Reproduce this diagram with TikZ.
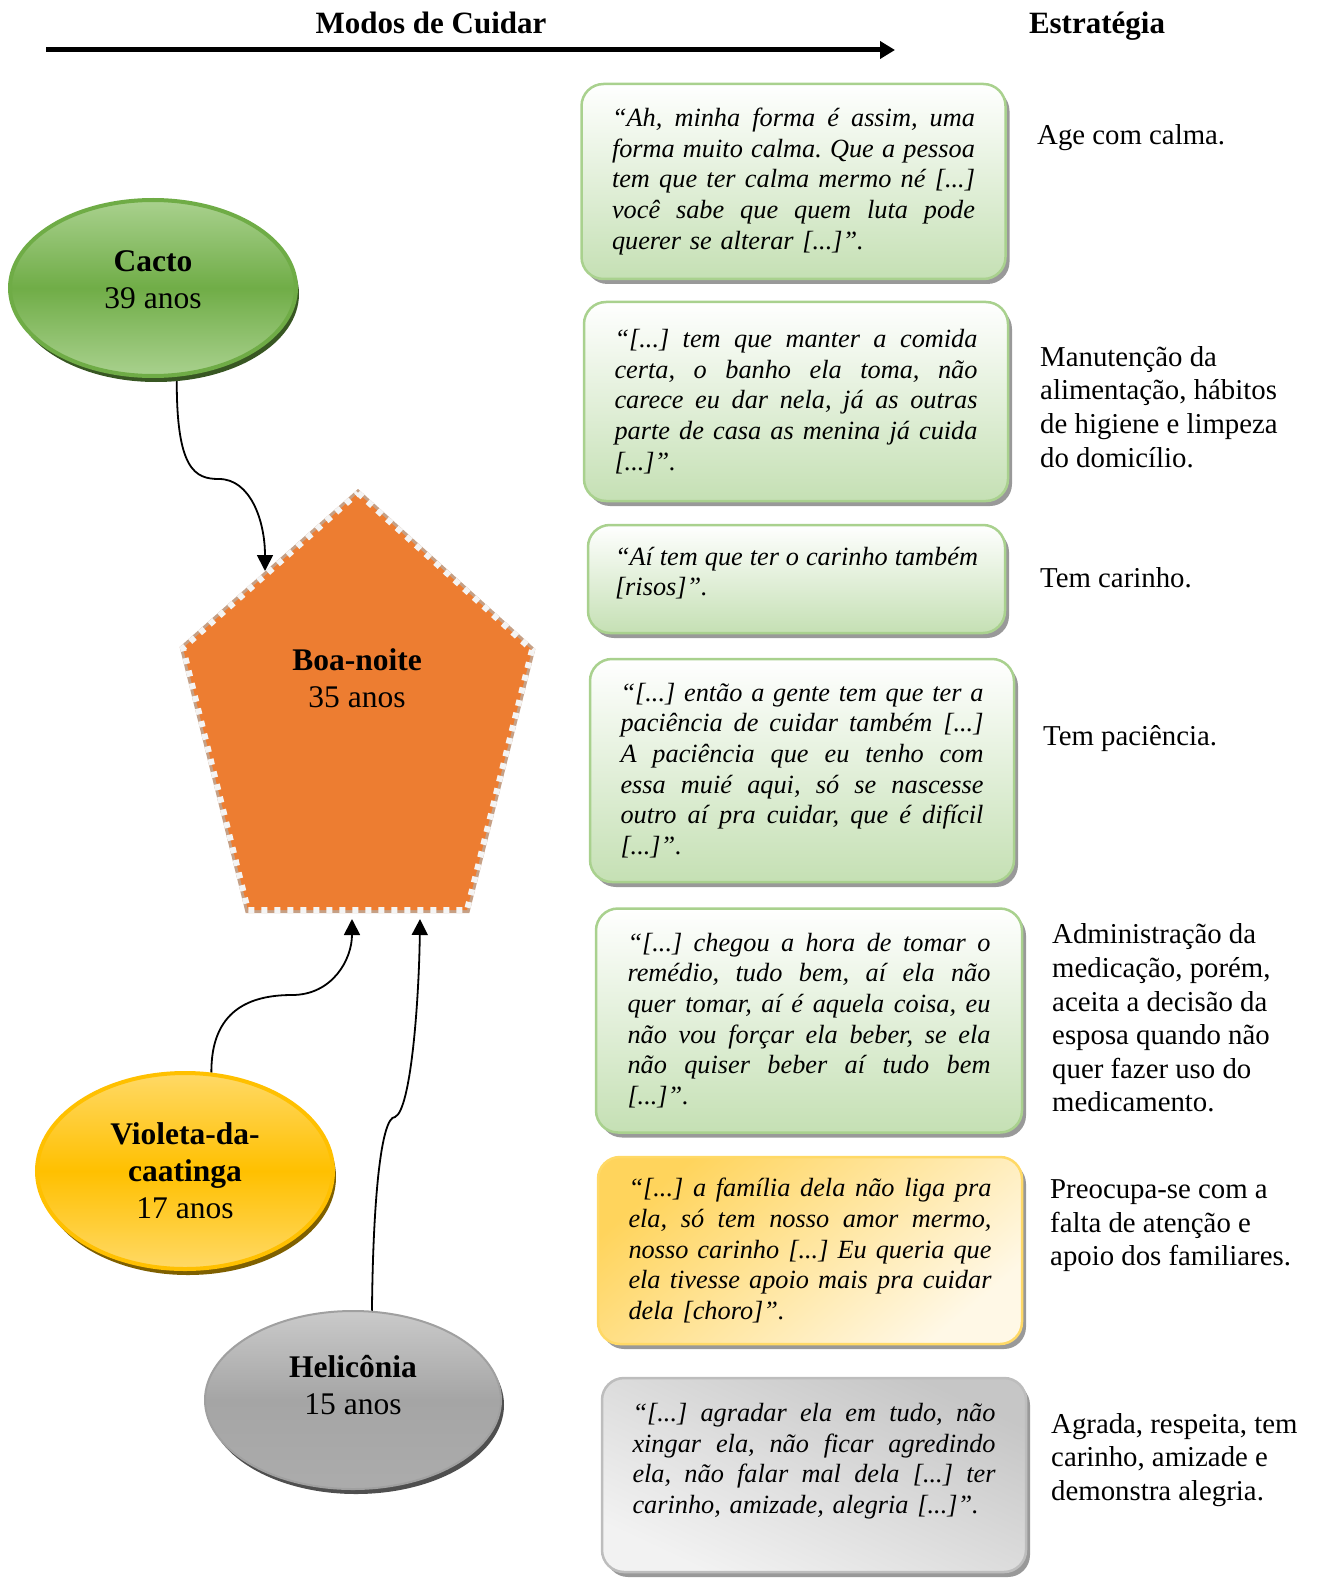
\documentclass[tikz,border=0pt]{standalone}
\usepackage{fontspec}
\setmainfont{Liberation Serif}
\usetikzlibrary{shapes.geometric,shadows,arrows.meta}
\pgfdeclarelayer{background}
\pgfsetlayers{background,main}
\frenchspacing

% palette
\definecolor{gborder}{HTML}{A9D18E}
\definecolor{gfill}{HTML}{C5E0B4}
\definecolor{yborder}{HTML}{FFD966}
\definecolor{ytop}{HTML}{FFD45C}
\definecolor{ybot}{HTML}{FFF8E6}
\definecolor{sborder}{HTML}{BDBDBD}
\definecolor{stop}{HTML}{C6C6C6}
\definecolor{sbot}{HTML}{F2F2F2}
\definecolor{cring}{HTML}{6FAC46}
\definecolor{clight}{HTML}{A9D18E}
\definecolor{cmid}{HTML}{70AD47}
\definecolor{cshadow}{HTML}{385723}
\definecolor{vring}{HTML}{FFC000}
\definecolor{vlight}{HTML}{FFD966}
\definecolor{vmid}{HTML}{FFC000}
\definecolor{vshadow}{HTML}{7F6000}
\definecolor{hring}{HTML}{A0A0A0}
\definecolor{hlight}{HTML}{CACACA}
\definecolor{hmid}{HTML}{A5A5A5}
\definecolor{hshadow}{HTML}{4F4F4F}
\definecolor{orangefill}{HTML}{ED7D31}
\definecolor{orangeshadow}{HTML}{C6A085}
\definecolor{rimwhite}{HTML}{F4F4F4}

% fonts
\newcommand\ttlfont{\fontsize{31}{36}\selectfont\bfseries}
\newcommand\qfont{\fontsize{26.3}{30.7}\selectfont\itshape}
\newcommand\stfont{\fontsize{28.8}{33.6}\selectfont}
\newcommand\efont{\fontsize{31.5}{37}\selectfont}

% one justified line of a quotation: word spaces share the spare width
\newcommand\jl[1]{\leavevmode
  {\spaceskip=\fontdimen2\font plus 1fil\relax\hbox to\hsize{#1}}\\\relax}
% extra depth below the last line, to raise a text block
\newcommand\lift[1]{\rule[-#1]{0pt}{#1}}

\tikzset{
  title/.style={font=\ttlfont, inner sep=0pt, anchor=base},
  quote/.style={rectangle, rounded corners=22pt, line width=2.5pt,
    text width=363pt, minimum width=424pt, align=left, font=\qfont,
    drop shadow={shadow xshift=4pt, shadow yshift=-5pt, fill=black, opacity=0.4}},
  greenq/.style={quote, draw=gborder, top color=white, bottom color=gfill},
  yellowq/.style={quote, draw=yborder, top color=ytop, bottom color=ybot, shading angle=40},
  greyq/.style={quote, draw=sborder, top color=stop, bottom color=sbot, shading angle=-25},
  strat/.style={anchor=west, align=left, inner sep=0pt, font=\stfont},
  person/.style={ellipse, inner sep=0pt, align=center, font=\efont, line width=4pt},
  cactost/.style={person, draw=cring, top color=clight, bottom color=clight, middle color=cmid,
    drop shadow={shadow xshift=3pt, shadow yshift=-6pt, fill=cshadow, opacity=1}},
  violetast/.style={person, draw=vring, top color=vlight, bottom color=vlight, middle color=vmid,
    drop shadow={shadow xshift=3pt, shadow yshift=-6pt, fill=vshadow, opacity=1}},
  heliconiast/.style={person, line width=2pt, draw=hring, top color=hlight, bottom color=hlight!85!black, middle color=hmid,
    drop shadow={shadow xshift=3pt, shadow yshift=-5pt, fill=hshadow, opacity=1}},
  conn/.style={line width=1.8pt, -{Triangle[length=16pt,width=16pt]}},
}

\begin{document}
\begin{tikzpicture}[x=1pt,y=-1pt]
\useasboundingbox (0,0) rectangle (1319,1578);

% headings and time axis
\node[title] (modos) at (431,34) {Modos de Cuidar};
\node[title] (estr) at (1097,34) {Estratégia};
\coordinate (axL) at (46,50);
\coordinate (axR) at (895,50);
\draw[line width=5pt, -{Triangle[length=15pt,width=17pt]}] (axL) -- (axR);

% caregivers
\node[cactost, minimum width=286pt, minimum height=176pt] (cacto) at (153,288)
  {\textbf{Cacto}\\39 anos\lift{16pt}};
\node[violetast, minimum width=296pt, minimum height=196pt] (violeta) at (185,1171)
  {\textbf{Violeta-da-}\\\textbf{caatinga}\\17 anos};
\node[heliconiast, minimum width=296pt, minimum height=178pt] (helic) at (353,1400)
  {\textbf{Helicônia}\\15 anos\lift{30pt}};

% the cared-for person: pentagon with dashed rim
\coordinate (p1) at (358,493);
\coordinate (p2) at (532,650);
\coordinate (p3) at (467,910);
\coordinate (p4) at (248,910);
\coordinate (p5) at (183,648);
\draw[orangeshadow, line width=6pt, line join=miter, xshift=3pt, yshift=-4pt]
  (p1) -- (p2) -- (p3) -- (p4) -- (p5) -- cycle;
\fill[orangefill] (p1) -- (p2) -- (p3) -- (p4) -- (p5) -- cycle;
\draw[rimwhite, line width=6pt, dash pattern=on 6pt off 7pt]
  (p1) -- (p2) -- (p3) -- (p4) -- (p5) -- cycle;
\node[font=\efont, align=center, inner sep=0pt] (boa) at (357,678)
  {\textbf{Boa-noite}\\35 anos};
\coordinate (bnA) at (265,571);
\coordinate (bnB) at (352,919);
\coordinate (bnC) at (420,919);

% connectors
\begin{pgfonlayer}{background}
\draw[conn] (cacto.-75) .. controls (176,470) and (195,479) .. (219,479)
  .. controls (250,479) and (265,520) .. (bnA);
\draw[conn] (violeta.75) .. controls (211,1010) and (250,995) .. (292,995)
  .. controls (332,995) and (352,960) .. (bnB);
\draw[conn] (helic.78) .. controls (373,1200) and (381,1117) .. (395,1117)
  .. controls (411,1110) and (419,1000) .. (bnC);
\end{pgfonlayer}

% quotations
\node[greenq, minimum height=195pt] (q1) at (793.5,181.5) {%
\jl{“Ah, minha forma é assim, uma}
\jl{forma muito calma. Que a pessoa}
\jl{tem que ter calma mermo né [...]}
\jl{você sabe que quem luta pode}
querer se alterar [...]”.};

\node[greenq, minimum height=199pt] (q2) at (796,401.5) {%
\jl{“[...] tem que manter a comida}
\jl{certa, o banho ela toma, não}
\jl{carece eu dar nela, já as outras}
\jl{parte de casa as menina já cuida}
[...]”.};

\node[greenq, minimum height=108pt, minimum width=417pt] (q3) at (796.5,579) {%
\jl{“Aí tem que ter o carinho também}
[risos]”.\lift{15pt}};

\node[greenq, minimum height=223pt] (q4) at (802,770.5) {%
\jl{“[...] então a gente tem que ter a}
\jl{paciência de cuidar também [...]}
\jl{A paciência que eu tenho com}
\jl{essa muié aqui, só se nascesse}
\jl{outro aí pra cuidar, que é difícil}
[...]”.};

\node[greenq, minimum height=224pt, minimum width=426pt] (q5) at (809,1020.5) {%
\jl{“[...] chegou a hora de tomar o}
\jl{remédio, tudo bem, aí ela não}
\jl{quer tomar, aí é aquela coisa, eu}
\jl{não vou forçar ela beber, se ela}
\jl{não quiser beber aí tudo bem}
[...]”.};

\node[yellowq, minimum height=187pt] (q6) at (810,1250.5) {%
\jl{“[...] a família dela não liga pra}
\jl{ela, só tem nosso amor mermo,}
\jl{nosso carinho [...] Eu queria que}
\jl{ela tivesse apoio mais pra cuidar}
dela [choro]”.};

\node[greyq, minimum height=194pt] (q7) at (814,1475) {%
\jl{“[...] agradar ela em tudo, não}
\jl{xingar ela, não ficar agredindo}
\jl{ela, não falar mal dela [...] ter}
carinho, amizade, alegria [...]”.\lift{33pt}};

% strategies
\node[strat] (s1) at (1037,138) {Age com calma.};
\node[strat] (s2) at (1040,407) {Manutenção da\\alimentação, hábitos\\de higiene e limpeza\\do domicílio.};
\node[strat] (s3) at (1040,578) {Tem carinho.};
\node[strat] (s4) at (1043,739) {Tem paciência.};
\node[strat] (s5) at (1052,1018) {Administração da\\medicação, porém,\\aceita a decisão da\\esposa quando não\\quer fazer uso do\\medicamento.};
\node[strat] (s6) at (1050,1226) {Preocupa-se com a\\falta de atenção e\\apoio dos familiares.};
\node[strat] (s7) at (1051,1460) {Agrada, respeita, tem\\carinho, amizade e\\demonstra alegria.};
\end{tikzpicture}
\end{document}
